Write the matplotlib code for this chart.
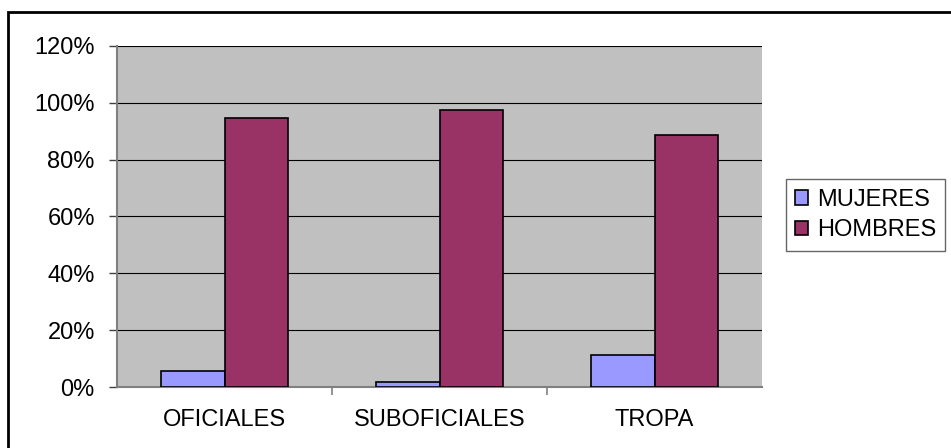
import matplotlib.pyplot as plt
from matplotlib.patches import Rectangle
from matplotlib.ticker import FuncFormatter
import numpy as np

plt.rcParams['font.family'] = ['Liberation Sans', 'DejaVu Sans']

categories = ['OFICIALES', 'SUBOFICIALES', 'TROPA']
mujeres = [5.5, 1.8, 11.3]
hombres = [94.5, 97.5, 88.8]

fig = plt.figure(figsize=(9.51, 4.48), dpi=100)
ax = fig.add_axes([117/951, 61/448, 645/951, 341/448])
ax.set_facecolor('#C0C0C0')

x = np.arange(len(categories))
w = 0.295
ax.bar(x - w/2, mujeres, w, color='#9999FF', edgecolor='black', linewidth=1.2, label='MUJERES', zorder=3)
ax.bar(x + w/2, hombres, w, color='#993366', edgecolor='black', linewidth=1.2, label='HOMBRES', zorder=3)

ax.set_xlim(-0.5, 2.5)
ax.set_ylim(0, 120)
ax.set_yticks(range(0, 121, 20))
ax.yaxis.set_major_formatter(FuncFormatter(lambda v, p: f'{int(v)}%'))
ax.grid(axis='y', color='black', linewidth=0.8, zorder=1)

ax.set_xticks(x)
ax.set_xticklabels(categories)
ax.set_xticks([0.5, 1.5], minor=True)
ax.tick_params(axis='x', which='major', length=0, pad=16, labelsize=17)
ax.tick_params(axis='x', which='minor', length=6, color='#808080', width=1.2)
ax.tick_params(axis='y', length=6, color='#404040', width=1, labelsize=17, pad=10)

for s in ['top', 'right']:
    ax.spines[s].set_visible(False)
ax.spines['left'].set_color('#808080')
ax.spines['left'].set_linewidth(1.5)
ax.spines['bottom'].set_color('#808080')
ax.spines['bottom'].set_linewidth(1.5)

leg = ax.legend(loc='center left', bbox_to_anchor=(786/951, (448-215)/448), bbox_transform=fig.transFigure,
                frameon=True, fancybox=False, fontsize=17, handlelength=0.55, handleheight=0.55,
                handletextpad=0.35, borderpad=0.4, labelspacing=0.35, borderaxespad=0)
leg.get_frame().set_edgecolor('#404040')
leg.get_frame().set_linewidth(1)

fig.patches.append(Rectangle((8/951, -0.1), 1.1, (448-12)/448 + 0.1, transform=fig.transFigure,
                             fill=False, edgecolor='black', linewidth=2))

fig.savefig('out.png', dpi=100)
